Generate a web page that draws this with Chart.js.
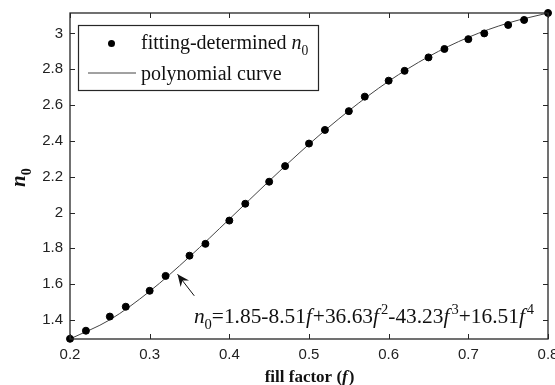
<!DOCTYPE html>
<html>
<head>
<meta charset="utf-8">
<script src="https://cdn.jsdelivr.net/npm/chart.js@4.4.0/dist/chart.umd.min.js"></script>
<style>
html, body { margin: 0; padding: 0; background: #fff; }
#wrap { width: 555px; height: 385px; }
</style>
</head>
<body>
<div id="wrap"><canvas id="n0Chart" width="555" height="385"></canvas></div>
<script>
// fitting-determined n0 (the dots)
var fillFactor = [0.20, 0.22, 0.25, 0.27, 0.30, 0.32, 0.35, 0.37, 0.40, 0.42, 0.45, 0.47, 0.50,
                  0.52, 0.55, 0.57, 0.60, 0.62, 0.65, 0.67, 0.70, 0.72, 0.75, 0.77, 0.80];
var n0Fit = [1.295, 1.340, 1.419, 1.474, 1.563, 1.646, 1.759, 1.825, 1.955, 2.049, 2.172, 2.259, 2.385,
             2.461, 2.566, 2.647, 2.736, 2.791, 2.866, 2.913, 2.968, 3.000, 3.047, 3.075, 3.114];

// polynomial curve
var curveF = [0.20, 0.25, 0.30, 0.35, 0.40, 0.45, 0.50, 0.55, 0.60, 0.65, 0.70, 0.75, 0.80];
var curveN = [1.294, 1.401, 1.560, 1.753, 1.963, 2.176, 2.381, 2.568, 2.733, 2.870, 2.978, 3.058, 3.114];

var xTicks = [0.2, 0.3, 0.4, 0.5, 0.6, 0.7, 0.8];
var yTicks = [1.4, 1.6, 1.8, 2, 2.2, 2.4, 2.6, 2.8, 3];

var INK = '#262626';
var SERIF = '"Liberation Serif", "Times New Roman", serif';

function pts(xs, ys) {
  var out = [];
  for (var i = 0; i < xs.length; i++) out.push({ x: xs[i], y: ys[i] });
  return out;
}

// draws a run of text pieces, some italic / sub / sup
function drawRuns(ctx, x, y, runs, size, family) {
  ctx.textBaseline = 'alphabetic';
  ctx.textAlign = 'left';
  runs.forEach(function (r) {
    var s = size, dy = 0;
    if (r.sub) { s = size * 0.68; dy = size * 0.28; }
    if (r.sup) { s = size * 0.68; dy = -size * 0.42; }
    ctx.font = (r.bold ? 'bold ' : '') + (r.it ? 'italic ' : '') + s + 'px ' + family;
    ctx.fillText(r.t, x, y + dy);
    x += ctx.measureText(r.t).width + (r.gap || 0);
  });
  return x;
}

var frame = {
  id: 'frame',
  afterDraw: function (chart) {
    var ctx = chart.ctx, a = chart.chartArea;
    var sx = chart.scales.x, sy = chart.scales.y;
    ctx.save();

    // axes box
    ctx.strokeStyle = INK;
    ctx.lineWidth = 1.3;
    ctx.strokeRect(a.left, a.top, a.right - a.left, a.bottom - a.top);

    // inward ticks, all four sides
    ctx.lineWidth = 1;
    xTicks.forEach(function (v) {
      var px = Math.round(sx.getPixelForValue(v)) + 0.5;
      ctx.beginPath();
      ctx.moveTo(px, a.bottom); ctx.lineTo(px, a.bottom - 5);
      ctx.moveTo(px, a.top); ctx.lineTo(px, a.top + 5);
      ctx.stroke();
    });
    yTicks.forEach(function (v) {
      var py = Math.round(sy.getPixelForValue(v)) + 0.5;
      ctx.beginPath();
      ctx.moveTo(a.left, py); ctx.lineTo(a.left + 5, py);
      ctx.moveTo(a.right, py); ctx.lineTo(a.right - 5, py);
      ctx.stroke();
    });

    // legend
    var lx = a.left + 8, ly = a.top + 12, lw = 240, lh = 65;
    ctx.fillStyle = '#fff';
    ctx.fillRect(lx, ly, lw, lh);
    ctx.lineWidth = 1.2;
    ctx.strokeStyle = INK;
    ctx.strokeRect(lx + 0.5, ly + 0.5, lw, lh);
    ctx.fillStyle = '#000';
    ctx.beginPath();
    ctx.arc(lx + 33.5, ly + 18.5, 3.5, 0, Math.PI * 2);
    ctx.fill();
    ctx.strokeStyle = '#444';
    ctx.lineWidth = 1;
    ctx.beginPath();
    ctx.moveTo(lx + 10, ly + 48); ctx.lineTo(lx + 58, ly + 48);
    ctx.stroke();
    ctx.fillStyle = '#111';
    drawRuns(ctx, lx + 63, ly + 24, [{ t: 'fitting-determined ' }, { t: 'n', it: true }, { t: '0', sub: true }], 20, SERIF);
    drawRuns(ctx, lx + 63, ly + 55, [{ t: 'polynomial curve' }], 20, SERIF);

    // arrow pointing at the curve
    var tx = sx.getPixelForValue(0.335), ty = sy.getPixelForValue(1.655);
    var bx = sx.getPixelForValue(0.356), by = sy.getPixelForValue(1.535);
    var ang = Math.atan2(ty - by, tx - bx);
    ctx.strokeStyle = '#111';
    ctx.lineWidth = 1;
    ctx.beginPath();
    ctx.moveTo(bx, by); ctx.lineTo(tx, ty);
    ctx.stroke();
    ctx.fillStyle = '#111';
    ctx.beginPath();
    ctx.moveTo(tx, ty);
    ctx.lineTo(tx - 13 * Math.cos(ang - 0.42), ty - 13 * Math.sin(ang - 0.42));
    ctx.lineTo(tx - 8 * Math.cos(ang), ty - 8 * Math.sin(ang));
    ctx.lineTo(tx - 13 * Math.cos(ang + 0.42), ty - 13 * Math.sin(ang + 0.42));
    ctx.closePath();
    ctx.fill();

    // equation
    ctx.fillStyle = '#111';
    var ex = sx.getPixelForValue(0.3555), ey = sy.getPixelForValue(1.385);
    drawRuns(ctx, ex, ey, [
      { t: 'n', it: true }, { t: '0', sub: true }, { t: '=1.85-8.51' }, { t: 'f', it: true, gap: 1 },
      { t: '+36.63' }, { t: 'f', it: true, gap: 2 }, { t: '2', sup: true },
      { t: '-43.23' }, { t: 'f', it: true, gap: 2 }, { t: '3', sup: true },
      { t: '+16.51' }, { t: 'f', it: true, gap: 2 }, { t: '4', sup: true }
    ], 21.4, SERIF);

    // axis titles
    ctx.fillStyle = '#111';
    ctx.textBaseline = 'alphabetic';
    ctx.font = 'bold 17px ' + SERIF;
    var t1 = 'fill factor (', t2 = 'f', t3 = ')';
    var w1 = ctx.measureText(t1).width, w3 = ctx.measureText(t3).width;
    ctx.font = 'bold italic 17px ' + SERIF;
    var w2 = ctx.measureText(t2).width;
    var cx = (a.left + a.right) / 2 - (w1 + w2 + w3) / 2;
    drawRuns(ctx, cx, 382, [{ t: t1, bold: true }, { t: t2, bold: true, it: true, gap: 1 }, { t: t3, bold: true }], 17, SERIF);

    ctx.translate(25, 178);
    ctx.rotate(-Math.PI / 2);
    drawRuns(ctx, -9, 0, [{ t: 'n', bold: true, it: true }, { t: '0', bold: true, sub: true }], 21, SERIF);

    ctx.restore();
  }
};

new Chart(document.getElementById('n0Chart'), {
  type: 'scatter',
  data: {
    datasets: [
      {
        label: 'fitting-determined n0',
        data: pts(fillFactor, n0Fit),
        backgroundColor: '#000',
        borderColor: '#000',
        pointRadius: 3.5,
        pointHoverRadius: 3.5,
        showLine: false,
        clip: false
      },
      {
        label: 'polynomial curve',
        data: pts(curveF, curveN),
        showLine: true,
        borderColor: '#444',
        borderWidth: 1,
        pointRadius: 0,
        cubicInterpolationMode: 'monotone',
        clip: false
      }
    ]
  },
  options: {
    responsive: false,
    animation: false,
    devicePixelRatio: 1,
    layout: { padding: { left: 0, right: 7, top: 13, bottom: 0 } },
    plugins: { legend: { display: false }, tooltip: { enabled: false } },
    scales: {
      x: {
        type: 'linear',
        min: 0.2,
        max: 0.8,
        afterBuildTicks: function (s) { s.ticks = xTicks.map(function (v) { return { value: v }; }); },
        afterFit: function (s) { s.height = 46; s.paddingLeft = 0; s.paddingRight = 0; },
        grid: { display: false, drawTicks: false },
        border: { display: false },
        ticks: {
          padding: 7,
          color: '#222',
          font: { family: '"Liberation Sans", Arial, sans-serif', size: 15 },
          callback: function (v) { return String(v); }
        }
      },
      y: {
        type: 'linear',
        min: 1.2938,
        max: 3.1139,
        afterBuildTicks: function (s) { s.ticks = yTicks.map(function (v) { return { value: v }; }); },
        afterFit: function (s) { s.width = 70; s.paddingTop = 0; s.paddingBottom = 0; },
        grid: { display: false, drawTicks: false },
        border: { display: false },
        ticks: {
          padding: 7,
          color: '#222',
          font: { family: '"Liberation Sans", Arial, sans-serif', size: 15 },
          callback: function (v) { return String(v); }
        }
      }
    }
  },
  plugins: [frame]
});
</script>
</body>
</html>
